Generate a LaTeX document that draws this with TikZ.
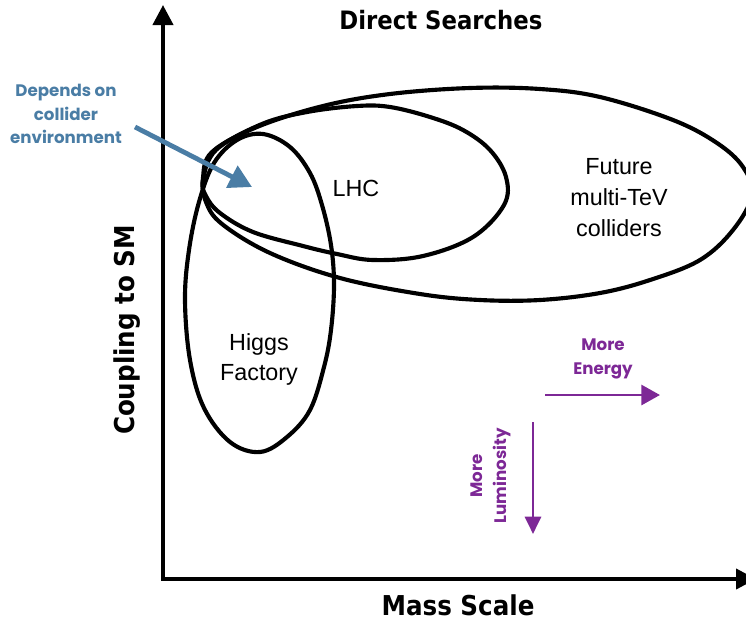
\documentclass[tikz,border=0pt]{standalone}
\usepackage{fontspec}
\setmainfont{Liberation Sans}
\newfontfamily\notefont{Poppins}
\newfontfamily\handfont{DejaVu Sans Condensed}
\usetikzlibrary{arrows.meta}
\definecolor{noteblue}{RGB}{74,125,165}
\definecolor{notepurple}{RGB}{125,40,150}
\begin{document}
\begin{tikzpicture}[x=0.75pt,y=-0.75pt,
  axisline/.style={line width=3pt, line join=miter,
    {Triangle[length=15pt,width=15pt]}-{Triangle[length=15pt,width=15pt]}},
  sketch/.style={line width=3.1pt, line join=round, black},
  axislabel/.style={font=\handfont\bfseries\fontsize{19}{22}\selectfont, inner sep=0pt},
  region/.style={font=\fontsize{17.5}{23.25}\selectfont, align=center, inner sep=0pt},
  note/.style={font=\notefont\bfseries\fontsize{12.5}{17.8}\selectfont, align=center, inner sep=0pt},
  bluearrow/.style={noteblue, line width=3.6pt, -{Triangle[length=17pt,width=18pt]}},
  purplearrow/.style={notepurple, line width=2.2pt},
]
\clip (0,0) rectangle (746,622);

% axes
\coordinate (ytip) at (163,5);
\coordinate (origin) at (163,579);
\coordinate (xtip) at (756,579);
\draw[axisline] (ytip) -- (origin) -- (xtip);

% regions
\draw[sketch] plot[smooth cycle, tension=0.6] coordinates {
  (203,178) (212,152) (257,127) (323,106) (390,94) (470,88) (540,89)
  (600,97) (673,120) (717,143) (743,167) (752,195) (733,230) (700,260)
  (650,280) (600,293) (540,300) (480,300) (420,294) (340,278) (270,253)
  (222,224) (206,202)};
\draw[sketch] plot[smooth cycle, tension=0.6] coordinates {
  (203,180) (216,150) (262,124) (307,112) (357,106) (390,107) (430,117)
  (463,130) (490,150) (506,177) (504,205) (473,237) (423,256) (373,260)
  (337,254) (303,246) (253,232) (220,213) (206,196)};
\draw[sketch] plot[smooth cycle, tension=0.6] coordinates {
  (263,134) (290,147) (310,173) (322,205) (331,245) (334,285) (331,330)
  (324,367) (310,410) (287,437) (260,452) (230,442) (204,408) (190,360)
  (185,300) (189,250) (199,202) (214,163) (237,140)};

% texts
\node[axislabel] (title) at (441,20) {Direct Searches};
\node[axislabel, font=\handfont\bfseries\fontsize{20.5}{24}\selectfont] (xlabel) at (458,605) {Mass Scale};
\node[axislabel, font=\handfont\bfseries\fontsize{20.5}{24}\selectfont, rotate=90] (ylabel) at (127,330) {Coupling to SM};

\node[region] (lhc) at (356,188) {LHC};
\node[region] (future) at (619,198) {Future\\multi-TeV\\colliders};
\node[region, font=\fontsize{17.5}{22.5}\selectfont] (higgs) at (259,359) {Higgs\\Factory};

\node[note, text=noteblue] (depends) at (66,114) {Depends on\\collider\\environment};
\coordinate (btail) at (135,127);
\coordinate (btip) at (252,187);
\draw[bluearrow] (btail) -- (btip);

\node[note, text=notepurple] (energy) at (603,359) {More\\Energy};
\coordinate (etail) at (545,395);
\coordinate (etip) at (660,395);
\draw[purplearrow, -{Triangle[length=14pt,width=15pt]}] (etail) -- (etip);

\node[note, text=notepurple, rotate=90] (lumi) at (491,476) {More\\Luminosity};
\coordinate (ltail) at (533,422);
\coordinate (ltip) at (533,534);
\draw[purplearrow, -{Triangle[length=13pt,width=12pt]}] (ltail) -- (ltip);
\end{tikzpicture}
\end{document}
